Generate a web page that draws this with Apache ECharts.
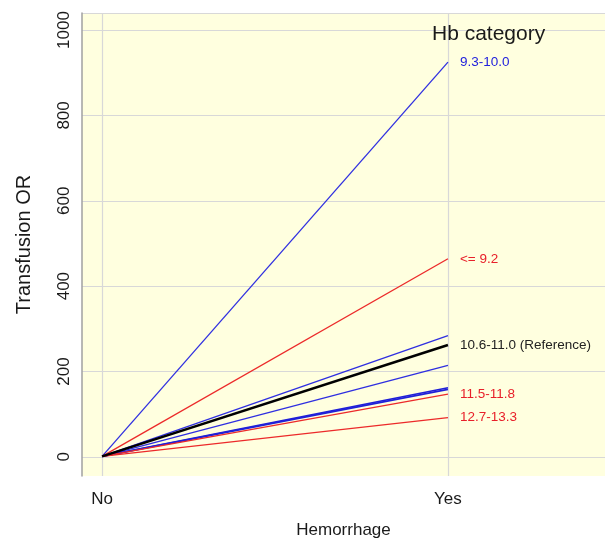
<!DOCTYPE html>
<html><head><meta charset="utf-8">
<script src="https://cdn.jsdelivr.net/npm/echarts@6/dist/echarts.min.js"></script>
<style>html,body{margin:0;padding:0;background:#fff}#c{width:605px;height:539px}</style>
</head><body><div id="c"></div>
<script>
const xCategories = ['No', 'Yes'];
const seriesNames = ['9.3-10.0', '<= 9.2', 'blue A', '10.6-11.0 (Reference)', 'blue B', 'blue C', 'blue D', '11.5-11.8', '12.7-13.3'];
const startValues = [1, 1, 1, 1, 1, 1, 1, 1, 1];
const endValues = [925, 464, 284, 262, 214, 162, 158, 147, 92];
const seriesColors = ['#2f2fe0', '#ec2a2a', '#2f2fe0', '#000000', '#2f2fe0', '#2020d8', '#2020d8', '#ec2a2a', '#ec2a2a'];
const labelColors = ['#2222dd', '#e8202a', null, '#222222', null, null, null, '#e8202a', '#e8202a'];
const showLabel = [true, true, false, true, false, false, false, true, true];
const lineWidths = [1.3, 1.3, 1.3, 2.6, 1.3, 1.6, 1.6, 1.3, 1.3];
const yTicks = [0, 200, 400, 600, 800, 1000];
const yMin = -45, yMax = 1040;

const chart = echarts.init(document.getElementById('c'));
const FONT = '"Liberation Sans", Arial, sans-serif';
const series = seriesNames.map((n, i) => ({
  type: 'line', name: n, symbol: 'none', silent: true,
  lineStyle: { color: seriesColors[i], width: lineWidths[i] },
  z: i === 3 ? 5 : 3,
  data: [[0, startValues[i]], [1, endValues[i]]],
  endLabel: {
    show: showLabel[i], distance: 12,
    formatter: n, color: labelColors[i] || seriesColors[i],
    fontFamily: FONT, fontSize: 13.5
  }
}));
chart.setOption({
  animation: false,
  title: { text: 'Hb category', left: 432, top: 24, padding: 0, textStyle: { fontFamily: FONT, fontSize: 21, fontWeight: 'normal', color: '#1a1a1a' } },
  grid: { left: 82, top: 13, right: 0, bottom: 63, show: true, backgroundColor: '#FFFFDF', borderWidth: 0, containLabel: false, outerBoundsMode: 'none' },
  xAxis: {
    type: 'value', min: -0.058, max: 1.454,
    axisLine: { show: false }, axisTick: { show: false, customValues: [0, 1] },
    splitLine: { show: true, lineStyle: { color: '#d8d8d8', width: 1.2 } },
    axisLabel: { customValues: [0, 1], margin: 15, fontFamily: FONT, fontSize: 17, color: '#1a1a1a',
      formatter: v => (Math.abs(v) < 1e-9 ? xCategories[0] : xCategories[1]) },
    name: 'Hemorrhage', nameLocation: 'middle', nameGap: 46,
    nameTextStyle: { fontFamily: FONT, fontSize: 17, color: '#1a1a1a' }
  },
  yAxis: {
    type: 'value', min: yMin, max: yMax,
    axisLine: { show: true, onZero: false, lineStyle: { color: '#a0a0a0', width: 1.5 } },
    axisTick: { show: false, customValues: yTicks.concat([yMax]) },
    splitLine: { show: true, lineStyle: { color: '#d8d8d8', width: 1.2 } },
    axisLabel: { customValues: yTicks, rotate: 90, margin: 9, fontFamily: FONT, fontSize: 17, color: '#1a1a1a',
      formatter: v => String(v) },
    name: 'Transfusion OR', nameLocation: 'middle', nameGap: 48,
    nameTextStyle: { fontFamily: FONT, fontSize: 20, color: '#1a1a1a' }
  },
  series: series
});
</script></body></html>
